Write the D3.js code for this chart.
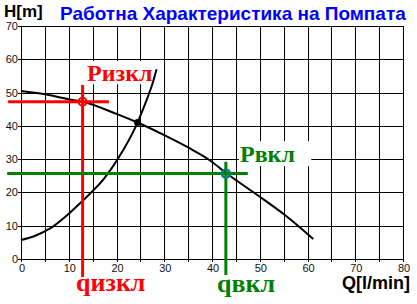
<!DOCTYPE html>
<html>
<head>
<meta charset="utf-8">
<script src="https://cdn.jsdelivr.net/npm/d3@7"></script>
<style>
  body { margin: 0; background: #fff; }
  svg { display: block; }
</style>
</head>
<body>
<div id="chart"></div>
<script>
// pump curve H(Q)
let pumpQ = [0, 5, 10, 12.9, 20, 24.4, 30, 35, 39.6, 42.9, 50.7, 55, 61.2]
let pumpH = [50.5, 49.5, 48, 47.25, 43.6, 41, 37.2, 33.5, 29.6, 25.9, 18, 13.5, 6]

// system curve
let sysQ = [0, 3, 6.1, 10.3, 12.9, 17.6, 20.2, 24.4, 25.5, 26.5, 27.5, 28.4]
let sysH = [5.7, 7, 9.2, 14, 17.5, 24.5, 29.9, 41, 44.8, 48.5, 52.5, 57]

// operating points: [Q, H]
let workPoint = [24.4, 41]
let offPoint = [12.9, 47.25]   // Ризкл / qизкл
let onPoint = [42.9, 25.7]     // Рвкл / qвкл

let xTicks = [0, 10, 20, 30, 40, 50, 60, 70, 80]
let xGrid = d3.range(0, 81, 5)
let yTicks = [0, 10, 20, 30, 40, 50, 60, 70]

let width = 417, height = 304

let x = d3.scaleLinear().domain([0, 80]).range([21, 403])
let y = d3.scaleLinear().domain([0, 70]).range([259, 26])

let svg = d3.select('#chart').append('svg')
  .attr('width', width)
  .attr('height', height)
  .style('font-family', 'Liberation Sans, Arial, sans-serif')

// grid
let grid = svg.append('g').attr('shape-rendering', 'crispEdges')
grid.selectAll('.vgrid').data(xGrid).enter().append('line')
  .attr('class', 'vgrid')
  .attr('x1', d => Math.round(x(d)) + 0.5).attr('x2', d => Math.round(x(d)) + 0.5)
  .attr('y1', y(70)).attr('y2', y(0) + 3)
  .attr('stroke', '#000')
grid.selectAll('.hgrid').data(yTicks).enter().append('line')
  .attr('class', 'hgrid')
  .attr('x1', x(0) - 3).attr('x2', x(80))
  .attr('y1', d => Math.round(y(d)) + 0.5).attr('y2', d => Math.round(y(d)) + 0.5)
  .attr('stroke', '#000')

// tick labels
svg.append('g').selectAll('text').data(xTicks).enter().append('text')
  .attr('x', d => x(d) + 1)
  .attr('y', y(0) + 13)
  .attr('text-anchor', 'middle')
  .attr('font-size', 11)
  .attr('fill', '#111')
  .text(d => d)
svg.append('g').selectAll('text').data(yTicks).enter().append('text')
  .attr('x', x(0) - 3)
  .attr('y', d => y(d) + 4)
  .attr('text-anchor', 'end')
  .attr('font-size', 11)
  .attr('fill', '#111')
  .text(d => d)

// label boxes hide grid behind them
let labelBox = (q0, q1, h0, h1) => svg.append('rect')
  .attr('x', x(q0)).attr('y', y(h1))
  .attr('width', x(q1) - x(q0)).attr('height', y(h0) - y(h1))
  .attr('fill', '#fff')
labelBox(13.3, 28, 52.5, 59.5)
labelBox(45.6, 60.8, 27.9, 35.4)

let lineGen = d3.line()
  .x(d => x(d[0])).y(d => y(d[1]))
  .curve(d3.curveMonotoneX)

svg.append('path')
  .datum(pumpQ.map((q, i) => [q, pumpH[i]]))
  .attr('d', lineGen)
  .attr('fill', 'none').attr('stroke', '#000').attr('stroke-width', 2)

svg.append('path')
  .datum(sysQ.map((q, i) => [q, sysH[i]]))
  .attr('d', lineGen)
  .attr('fill', 'none').attr('stroke', '#000').attr('stroke-width', 2)

// cross lines through the switch points
let cross = (p, color, qLeft, qRight, hTop, hBottom) => {
  svg.append('line')
    .attr('x1', x(qLeft)).attr('x2', x(qRight))
    .attr('y1', y(p[1])).attr('y2', y(p[1]))
    .attr('stroke', color).attr('stroke-width', 3)
  svg.append('line')
    .attr('x1', x(p[0])).attr('x2', x(p[0]))
    .attr('y1', y(hTop)).attr('y2', y(hBottom))
    .attr('stroke', color).attr('stroke-width', 3)
}
cross(offPoint, '#ff0000', -2.7, 18.4, 52.3, -5.4)
cross(onPoint, '#008000', -2.9, 47.5, 29.2, -4.8)

svg.append('circle')
  .attr('cx', x(offPoint[0])).attr('cy', y(offPoint[1])).attr('r', 4)
  .attr('fill', 'none').attr('stroke', '#ff0000').attr('stroke-width', 2)
svg.append('circle')
  .attr('cx', x(onPoint[0])).attr('cy', y(onPoint[1])).attr('r', 4)
  .attr('fill', 'none').attr('stroke', '#008080').attr('stroke-width', 2.5)
svg.append('circle')
  .attr('cx', x(workPoint[0])).attr('cy', y(workPoint[1])).attr('r', 3.5)
  .attr('fill', '#000')

// titles
svg.append('text').attr('x', 4).attr('y', 17)
  .attr('font-size', 17).attr('font-weight', 'bold').attr('fill', '#000')
  .text('H[m]')
svg.append('text').attr('x', 60).attr('y', 20)
  .attr('font-size', 19).attr('font-weight', 'bold').attr('fill', '#0000ff')
  .text('Работна Характеристика на Помпата')
svg.append('text').attr('x', 410).attr('y', 289)
  .attr('text-anchor', 'end')
  .attr('font-size', 18).attr('font-weight', 'bold').attr('fill', '#000')
  .text('Q[l/min]')

let serif = 'Liberation Serif, Times New Roman, serif'
svg.append('text').attr('x', 87).attr('y', 81)
  .attr('font-family', serif).attr('font-size', 24).attr('font-weight', 'bold')
  .attr('fill', '#ff0000').text('Ризкл')
svg.append('text').attr('x', 240).attr('y', 162)
  .attr('font-family', serif).attr('font-size', 24).attr('font-weight', 'bold')
  .attr('fill', '#008000').text('Рвкл')
svg.append('text').attr('x', 76).attr('y', 291)
  .attr('font-family', serif).attr('font-size', 26).attr('font-weight', 'bold')
  .attr('fill', '#ff0000').text('qизкл')
svg.append('text').attr('x', 217).attr('y', 292)
  .attr('font-family', serif).attr('font-size', 26).attr('font-weight', 'bold')
  .attr('fill', '#008000').text('qвкл')
</script>
</body>
</html>
